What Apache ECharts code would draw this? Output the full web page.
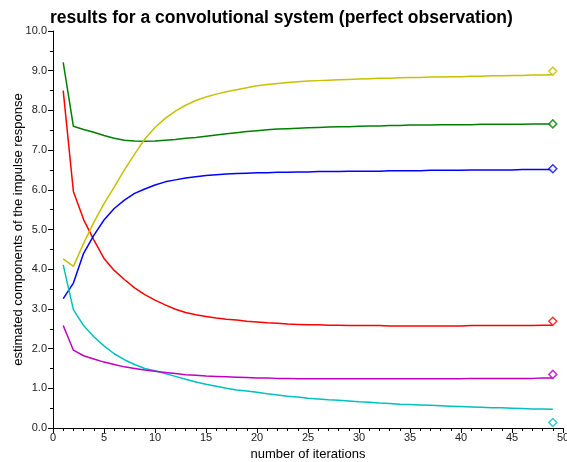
<!DOCTYPE html>
<html>
<head>
<meta charset="utf-8">
<script src="https://cdn.jsdelivr.net/npm/echarts@6/dist/echarts.min.js"></script>
<style>html,body{margin:0;padding:0;background:#fff}#c{width:567px;height:462px}</style>
</head>
<body>
<div id="c"></div>
<script>
const iterations = Array.from({length: 49}, (_, i) => i + 1);

const redEst = [8.50, 5.96, 5.25, 4.74, 4.27, 3.97, 3.74, 3.53, 3.36, 3.22,
  3.10, 2.99, 2.91, 2.85, 2.81, 2.77, 2.74, 2.72, 2.69, 2.67,
  2.65, 2.64, 2.62, 2.61, 2.60, 2.60, 2.59, 2.59, 2.58, 2.58,
  2.58, 2.58, 2.57, 2.57, 2.57, 2.57, 2.57, 2.57, 2.57, 2.57,
  2.58, 2.58, 2.58, 2.58, 2.58, 2.58, 2.58, 2.59, 2.59];
const greenEst = [9.21, 7.60, 7.52, 7.45, 7.37, 7.30, 7.25, 7.23, 7.22, 7.23,
  7.25, 7.27, 7.30, 7.32, 7.35, 7.38, 7.41, 7.44, 7.47, 7.49,
  7.51, 7.53, 7.54, 7.55, 7.56, 7.57, 7.58, 7.59, 7.59, 7.60,
  7.61, 7.61, 7.62, 7.62, 7.63, 7.63, 7.63, 7.64, 7.64, 7.64,
  7.64, 7.65, 7.65, 7.65, 7.65, 7.65, 7.66, 7.66, 7.66];
const blueEst = [3.26, 3.65, 4.40, 4.85, 5.24, 5.53, 5.74, 5.91, 6.02, 6.12,
  6.20, 6.25, 6.30, 6.33, 6.36, 6.38, 6.40, 6.41, 6.42, 6.43,
  6.43, 6.44, 6.44, 6.45, 6.45, 6.46, 6.46, 6.46, 6.47, 6.47,
  6.47, 6.47, 6.48, 6.48, 6.48, 6.48, 6.49, 6.49, 6.49, 6.49,
  6.50, 6.50, 6.50, 6.50, 6.50, 6.51, 6.51, 6.51, 6.51];
const yellowEst = [4.26, 4.07, 4.65, 5.18, 5.65, 6.07, 6.50, 6.90, 7.28, 7.57,
  7.80, 7.98, 8.13, 8.25, 8.34, 8.41, 8.47, 8.52, 8.57, 8.62,
  8.65, 8.68, 8.70, 8.72, 8.74, 8.75, 8.76, 8.77, 8.78, 8.79,
  8.80, 8.81, 8.81, 8.82, 8.83, 8.83, 8.84, 8.84, 8.85, 8.85,
  8.86, 8.86, 8.87, 8.87, 8.88, 8.88, 8.89, 8.89, 8.90];
const cyanEst = [4.11, 2.98, 2.58, 2.30, 2.07, 1.87, 1.72, 1.60, 1.50, 1.44,
  1.37, 1.30, 1.23, 1.16, 1.10, 1.05, 1.00, 0.96, 0.93, 0.90,
  0.86, 0.83, 0.80, 0.78, 0.75, 0.73, 0.71, 0.70, 0.68, 0.66,
  0.65, 0.63, 0.62, 0.60, 0.59, 0.58, 0.57, 0.56, 0.55, 0.54,
  0.53, 0.52, 0.51, 0.51, 0.50, 0.49, 0.48, 0.48, 0.47];
const magentaEst = [2.58, 1.96, 1.82, 1.74, 1.66, 1.60, 1.54, 1.50, 1.46, 1.43,
  1.40, 1.37, 1.34, 1.33, 1.31, 1.30, 1.29, 1.28, 1.27, 1.26,
  1.26, 1.25, 1.25, 1.24, 1.24, 1.24, 1.24, 1.24, 1.24, 1.24,
  1.24, 1.24, 1.24, 1.24, 1.24, 1.24, 1.24, 1.24, 1.24, 1.24,
  1.25, 1.25, 1.25, 1.25, 1.25, 1.25, 1.25, 1.26, 1.26];

const trueIteration = 49;
const trueValues = {red: 2.69, green: 7.66, blue: 6.53, yellow: 8.99, cyan: 0.14, magenta: 1.35};

const xTicks = [0, 5, 10, 15, 20, 25, 30, 35, 40, 45, 50];
const yTicks = [0, 1, 2, 3, 4, 5, 6, 7, 8, 9, 10];

const colors = {red: '#ff0000', green: '#008000', blue: '#0000ff', yellow: '#c8c000', cyan: '#00c0c0', magenta: '#c000c0'};
const estimates = {red: redEst, green: greenEst, blue: blueEst, yellow: yellowEst, cyan: cyanEst, magenta: magentaEst};

const series = [];
Object.keys(estimates).forEach(k => {
  series.push({
    type: 'line', name: k + ' estimate',
    data: iterations.map((x, i) => [x, estimates[k][i]]),
    showSymbol: false, symbol: 'none',
    lineStyle: {color: colors[k], width: 1.5},
    animation: false, z: 2
  });
  series.push({
    type: 'scatter', name: k + ' true',
    data: [[trueIteration, trueValues[k]]],
    symbol: 'diamond', symbolSize: 8,
    itemStyle: {color: '#fff', borderColor: colors[k], borderWidth: 1.5},
    animation: false, z: 3
  });
});

const axisCommon = {
  axisLine: {show: true, lineStyle: {color: '#000', width: 1}},
  axisTick: {show: true, inside: false, length: 5, lineStyle: {color: '#000'}},
  splitLine: {show: false},
  axisLabel: {color: '#222', fontFamily: 'Liberation Sans, Arial', fontSize: 11}
};

const chart = echarts.init(document.getElementById('c'), null, {renderer: 'canvas'});
chart.setOption({
  animation: false,
  backgroundColor: '#fff',
  title: {
    text: 'results for a convolutional system (perfect observation)',
    left: 45, top: 4,
    textStyle: {fontFamily: 'Liberation Sans, Arial', fontWeight: 'bold', fontSize: 17.5, color: '#000'}
  },
  grid: {left: 53, right: 4, top: 31, bottom: 34, containLabel: false, outerBoundsMode: 'none'},
  xAxis: Object.assign({}, axisCommon, {
    type: 'value', min: xTicks[0], max: xTicks[xTicks.length - 1], interval: 5,
    name: 'number of iterations', nameLocation: 'middle', nameGap: 20, nameMoveOverlap: false,
    nameTextStyle: {fontFamily: 'Liberation Sans, Arial', fontSize: 13, color: '#000'},
    minorTick: {show: true, splitNumber: 5, length: 3, lineStyle: {color: '#000'}},
    axisLabel: Object.assign({}, axisCommon.axisLabel, {margin: 4, formatter: v => String(v)})
  }),
  yAxis: Object.assign({}, axisCommon, {
    type: 'value', min: yTicks[0], max: yTicks[yTicks.length - 1], interval: 1,
    name: 'estimated components of the impulse response', nameLocation: 'middle', nameGap: 28, nameMoveOverlap: false,
    nameTextStyle: {fontFamily: 'Liberation Sans, Arial', fontSize: 13, color: '#000'},
    minorTick: {show: true, splitNumber: 2, length: 3, lineStyle: {color: '#000'}},
    axisLabel: Object.assign({}, axisCommon.axisLabel, {margin: 6, formatter: v => v.toFixed(1)})
  }),
  series: series
});
</script>
</body>
</html>
